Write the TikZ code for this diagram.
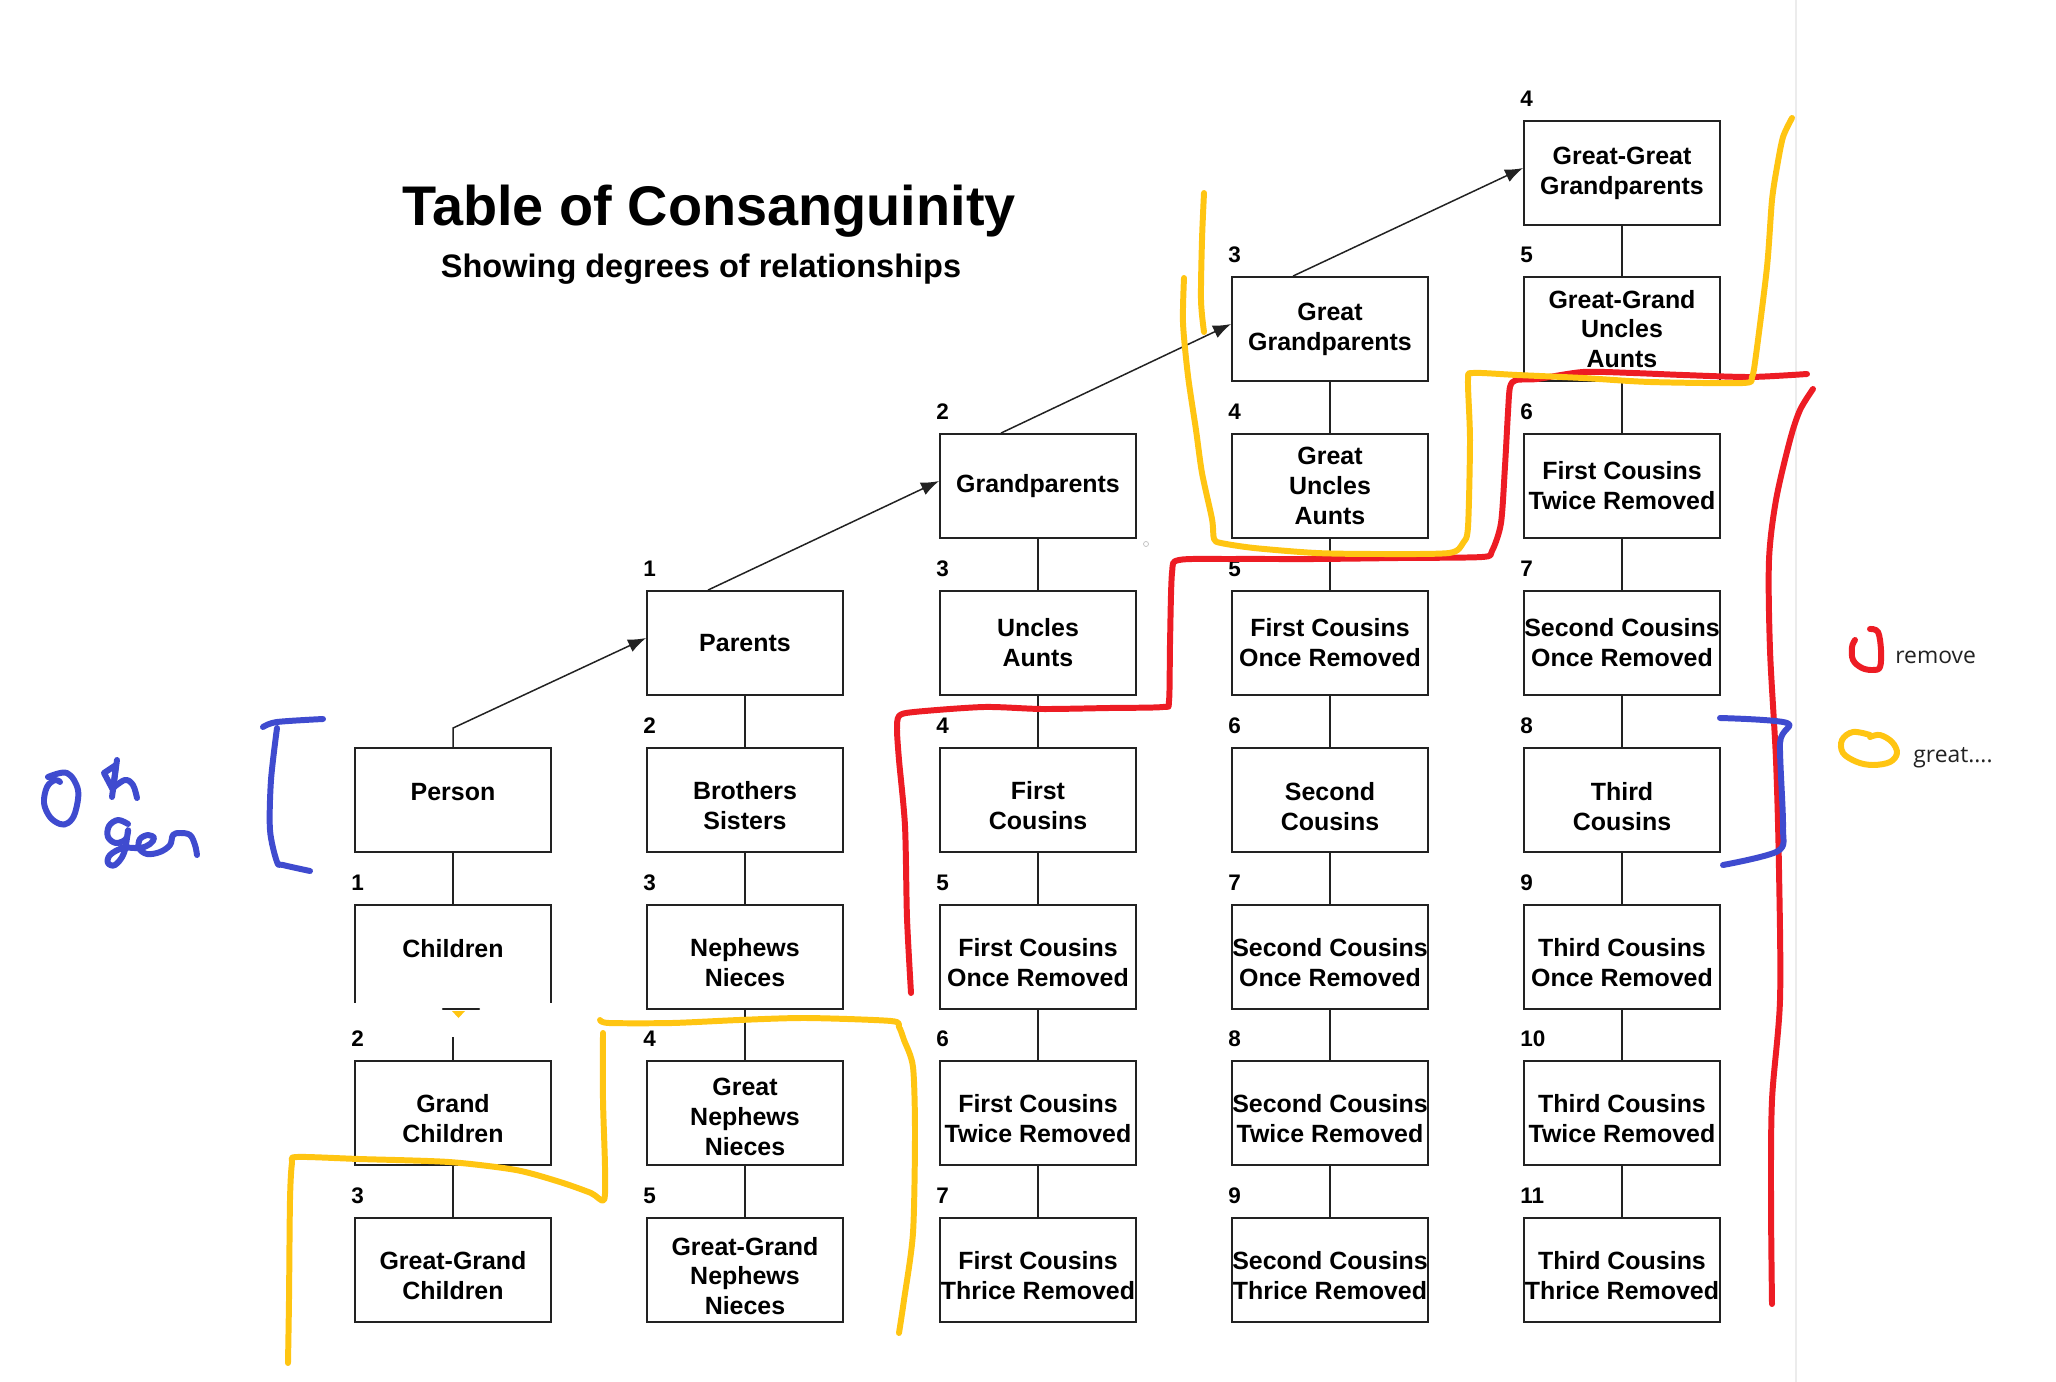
\documentclass[tikz,border=0pt]{standalone}
\usepackage{fontspec}
\setmainfont{Liberation Sans}
\newfontfamily\legendfont{Open Sans}
\usetikzlibrary{arrows.meta,calc}
\definecolor{hred}{HTML}{ED1C24}
\definecolor{hyellow}{HTML}{FFC512}
\definecolor{hblue}{HTML}{3F4BCF}
\definecolor{boxline}{HTML}{222222}
% #1 vertical text offset (px, down), #2 name, #3 x, #4 y, #5 text, #6 number
\newcommand\kinbox[6][0]{%
  \node[relbox] (#2) at (#3,#4) {};
  \node[boxtext] (#2-t) at ($(#2.center)+(0,#1)$) {#5};
  \node[numlab] (#2-n) at ($(#2.north west)+(-3,-14)$) {#6};}
\begin{document}
\begin{tikzpicture}[x=0.02cm,y=-0.02cm,
  relbox/.style={draw=boxline, line width=1.1pt, fill=white, minimum width=3.92cm,
    minimum height=2.08cm, inner sep=0pt},
  boxtext/.style={inner sep=0pt, align=center, font=\bfseries\fontsize{14.2}{17}\selectfont},
  numlab/.style={anchor=base west, inner sep=0pt, font=\bfseries\fontsize{12.8}{14}\selectfont},
  link/.style={draw=boxline, line width=0.85pt},
  uparrow/.style={link, -{Latex[length=0.36cm,width=0.27cm]}},
  ink/.style={line width=3.4pt, line cap=round, line join=round},
  legendtext/.style={anchor=base west, inner sep=0pt, text=boxline, font=\legendfont\fontsize{13}{15}\selectfont}]
\useasboundingbox[fill=white] (0,0) rectangle (2056,1382);
% page edge
\draw[gray!15, line width=0.6pt] (1796,0) -- (1796,1382);
% title
\node[anchor=base, inner sep=0pt, font=\bfseries\fontsize{31.8}{36}\selectfont] (title) at (709,226) {Table of Consanguinity};
\node[anchor=base, inner sep=0pt, font=\bfseries\fontsize{18.5}{22}\selectfont] (subtitle) at (701,277) {Showing degrees of relationships};
% column 1
\node[relbox] (person) at (453,800) {};
\node[boxtext] (person-t) at ($(person.center)+(0,-8)$) {Person};
\kinbox[-8]{children}{453}{957}{Children}{1}
\kinbox[6]{grand}{453}{1113}{Grand\\Children}{2}
\kinbox[6]{ggrand}{453}{1270}{Great-Grand\\Children}{3}
% column 2
\kinbox{parents}{745}{643}{Parents}{1}
\kinbox[6]{siblings}{745}{800}{Brothers\\Sisters}{2}
\kinbox[6]{nephews}{745}{957}{Nephews\\Nieces}{3}
\kinbox[4]{gnephews}{745}{1113}{Great\\Nephews\\Nieces}{4}
\kinbox[6]{ggnephews}{745}{1270}{Great-Grand\\Nephews\\Nieces}{5}
% column 3
\kinbox{gparents}{1038}{486}{Grandparents}{2}
\kinbox{uncles}{1038}{643}{Uncles\\Aunts}{3}
\kinbox[6]{fc}{1038}{800}{First\\Cousins}{4}
\kinbox[6]{fca}{1038}{957}{First Cousins\\Once Removed}{5}
\kinbox[6]{fcb}{1038}{1113}{First Cousins\\Twice Removed}{6}
\kinbox[6]{fcc}{1038}{1270}{First Cousins\\Thrice Removed}{7}
% column 4
\kinbox{ggparents}{1330}{329}{Great\\Grandparents}{3}
\kinbox{guncles}{1330}{486}{Great\\Uncles\\Aunts}{4}
\kinbox{fcd}{1330}{643}{First Cousins\\Once Removed}{5}
\kinbox[7]{sc}{1330}{800}{Second\\Cousins}{6}
\kinbox[6]{sca}{1330}{957}{Second Cousins\\Once Removed}{7}
\kinbox[6]{scb}{1330}{1113}{Second Cousins\\Twice Removed}{8}
\kinbox[6]{scc}{1330}{1270}{Second Cousins\\Thrice Removed}{9}
% column 5
\kinbox{gggparents}{1622}{173}{Great-Great\\Grandparents}{4}
\kinbox{gguncles}{1622}{329}{Great-Grand\\Uncles\\Aunts}{5}
\kinbox{fce}{1622}{486}{First Cousins\\Twice Removed}{6}
\kinbox{scd}{1622}{643}{Second Cousins\\Once Removed}{7}
\kinbox[7]{tc}{1622}{800}{Third\\Cousins}{8}
\kinbox[6]{tca}{1622}{957}{Third Cousins\\Once Removed}{9}
\kinbox[6]{tcb}{1622}{1113}{Third Cousins\\Twice Removed}{10}
\kinbox[6]{tcc}{1622}{1270}{Third Cousins\\Thrice Removed}{11}
% vertical connectors
\foreach \a/\b in {person/children, children/grand, grand/ggrand,
  parents/siblings, siblings/nephews, nephews/gnephews, gnephews/ggnephews,
  gparents/uncles, uncles/fc, fc/fca, fca/fcb, fcb/fcc,
  ggparents/guncles, guncles/fcd, fcd/sc, sc/sca, sca/scb, scb/scc,
  gggparents/gguncles, gguncles/fce, fce/scd, scd/tc, tc/tca, tca/tcb, tcb/tcc}
  \draw[link] (\a.south) -- (\b.north);
% ascending arrows
\draw[uparrow] (person.north) -- ++(0,-19) -- ($(parents.west)+(0,-5)$);
\draw[uparrow] ($(parents.north west)+(62,0)$) -- ($(gparents.west)+(0,-5)$);
\draw[uparrow] ($(gparents.north west)+(62,0)$) -- ($(ggparents.west)+(0,-5)$);
\draw[uparrow] ($(ggparents.north west)+(62,0)$) -- ($(gggparents.west)+(0,-5)$);
% erased bottom of the Children box
\fill[white] (350,1003) rectangle (557,1029);
\fill[white] (372,1029) rectangle (557,1037);
\draw[boxline, line width=1.3pt, line cap=round] (443,1009) -- (479,1009);
\fill[hyellow] (452,1011) -- (465,1011) -- (458.5,1018) -- cycle;
% tiny mark
\draw[gray!50, line width=0.4pt] (1146,544) circle[radius=2.5];
% red strokes
\draw[ink, hred] plot[smooth, tension=0.45] coordinates {(911,993) (907,918) (905,826) (899,760) (897,730) (899,716) (914,712) (984,707) (1042,709) (1109,708) (1163,707) (1169,701) (1170,644) (1172,573) (1179,560) (1233,559) (1316,559) (1399,558) (1482,557) (1492,551) (1501,523) (1505,466) (1508,412) (1510,387) (1516,380) (1537,379) (1583,372) (1633,373) (1683,375) (1750,377) (1807,374)};
\draw[ink, hred] plot[smooth, tension=0.5] coordinates {(1813,389) (1800,410) (1790,440) (1776,500) (1769,560) (1770,650) (1776,760) (1779,870) (1780,1000) (1772,1100) (1771,1200) (1772,1304)};
% yellow strokes
\draw[ink, hyellow] plot[smooth, tension=0.5] coordinates {(1204,193) (1202,240) (1201,300) (1204,332)};
\draw[ink, hyellow] plot[smooth, tension=0.45] coordinates {(1184,278) (1183,323) (1188,376) (1196,430) (1202,473) (1212,519) (1214,539) (1221,543) (1254,548) (1316,553) (1378,554) (1449,553) (1463,543) (1468,527) (1470,440) (1468,380) (1473,373) (1517,375) (1583,378) (1650,382) (1743,383) (1752,377) (1756,355) (1767,267) (1772,200) (1777,167) (1783,137) (1792,118)};
\draw[ink, hyellow] plot[smooth, tension=0.45] coordinates {(288,1363) (289,1300) (290,1200) (292,1163) (297,1157) (359,1159) (449,1162) (516,1170) (560,1182) (591,1193) (604,1200) (605,1167) (603,1100) (603,1033)};
\draw[ink, hyellow] plot[smooth, tension=0.45] coordinates {(600,1020) (609,1023) (672,1023) (739,1020) (806,1018) (891,1021) (899,1027) (904,1040) (913,1067) (915,1133) (913,1233) (904,1300) (899,1333)};
% blue strokes
\draw[ink, hblue] plot[smooth, tension=0.5] coordinates {(263,727) (277,722) (323,719)};
\draw[ink, hblue] plot[smooth, tension=0.5] coordinates {(277,728) (271,780) (270,830) (277,862) (283,865) (310,871)};
\draw[ink, hblue] plot[smooth, tension=0.5] coordinates {(1720,718) (1787,723) (1780,743) (1783,826) (1778,851) (1723,865)};
\draw[ink, hblue] plot[smooth, tension=0.6] coordinates {(48,777) (67,773) (78,790) (75,813) (68,823) (60,824) (50,817) (44,803) (47,787) (55,780) (60,782)};
\draw[ink, hblue] (117,760) -- (112,797);
\draw[ink, hblue] (104,773) -- (116,765) -- (113,790) -- cycle;
\draw[ink, hblue] plot[smooth, tension=0.6] coordinates {(113,788) (125,780) (133,785) (137,798)};
\draw[ink, hblue] plot[smooth, tension=0.6] coordinates {(128,824) (118,820) (109,826) (108,837) (116,843) (126,839) (128,830) (124,853) (115,865) (108,863) (110,855) (123,848) (140,848) (150,844) (154,838) (148,835) (140,839) (139,848) (147,854) (160,852) (170,845) (173,835) (180,833) (190,835) (195,845) (197,855)};
% legend
\draw[ink, hred] plot[smooth, tension=0.6] coordinates {(1855,640) (1852,647) (1853,660) (1862,668) (1873,670) (1880,667) (1881,650) (1878,632) (1870,629)};
\node[legendtext] (lremove) at (1895,663) {remove};
\draw[ink, hyellow] plot[smooth, tension=0.6] coordinates {(1870,735) (1853,732) (1842,740) (1843,753) (1857,762) (1873,765) (1890,762) (1897,753) (1892,742) (1880,735) (1870,737)};
\node[legendtext] (lgreat) at (1913,762) {great....};
\end{tikzpicture}
\end{document}
